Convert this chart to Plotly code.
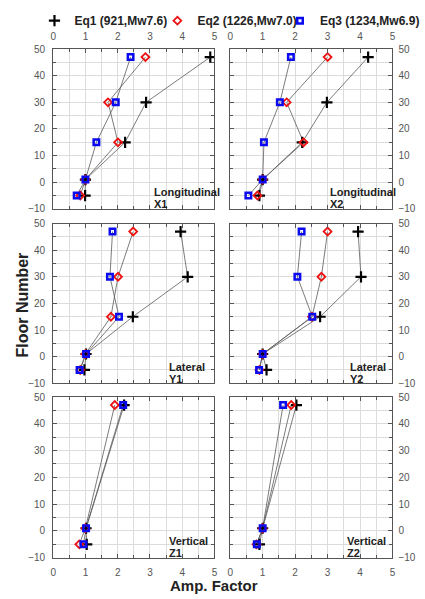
import plotly.graph_objects as go

floors_full = [-5, 1, 15, 30, 47]
floors_vert = [-5, 1, 47]

series_names = ["Eq1 (921,Mw7.6)", "Eq2 (1226,Mw7.0)", "Eq3 (1234,Mw6.9)"]

X1_eq1 = [0.99, 1.00, 2.23, 2.88, 4.87]
X1_eq2 = [0.84, 1.00, 2.01, 1.70, 2.86]
X1_eq3 = [0.73, 1.00, 1.34, 1.94, 2.40]
X2_eq1 = [0.90, 1.00, 2.22, 2.98, 4.25]
X2_eq2 = [0.84, 1.00, 2.26, 1.74, 3.00]
X2_eq3 = [0.56, 1.00, 1.04, 1.53, 1.87]
Y1_eq1 = [0.97, 1.02, 2.47, 4.17, 3.95]
Y1_eq2 = [0.84, 1.00, 1.79, 2.01, 2.48]
Y1_eq3 = [0.82, 1.02, 2.04, 1.76, 1.84]
Y2_eq1 = [1.12, 1.00, 2.77, 4.03, 3.94]
Y2_eq2 = [0.90, 1.00, 2.52, 2.81, 3.00]
Y2_eq3 = [0.89, 1.00, 2.53, 2.07, 2.20]
Z1_eq1 = [1.04, 1.02, 2.20]
Z1_eq2 = [0.81, 1.00, 1.91]
Z1_eq3 = [0.94, 1.02, 2.17]
Z2_eq1 = [0.90, 1.00, 2.04]
Z2_eq2 = [0.81, 1.00, 1.88]
Z2_eq3 = [0.82, 1.00, 1.63]

panel_line1 = ["Longitudinal", "Longitudinal", "Lateral", "Lateral", "Vertical", "Vertical"]
panel_line2 = ["X1", "X2", "Y1", "Y2", "Z1", "Z2"]
panel_label_x = [3.08, 3.03, 3.57, 3.67, 3.57, 3.58]

panels = [
    (floors_full, [X1_eq1, X1_eq2, X1_eq3]),
    (floors_full, [X2_eq1, X2_eq2, X2_eq3]),
    (floors_full, [Y1_eq1, Y1_eq2, Y1_eq3]),
    (floors_full, [Y2_eq1, Y2_eq2, Y2_eq3]),
    (floors_vert, [Z1_eq1, Z1_eq2, Z1_eq3]),
    (floors_vert, [Z2_eq1, Z2_eq2, Z2_eq3]),
]

W, H = 425, 599
FONT = "Liberation Sans, Arial, sans-serif"

markers = [
    dict(symbol="cross-thin", size=8, color="black", line=dict(width=2.2, color="black")),
    dict(symbol="diamond-open", size=6, color="#ee1111", line=dict(width=1.8, color="#ee1111")),
    dict(symbol="square-open", size=5.5, color="#0a0aee", line=dict(width=2.5, color="#0a0aee")),
]

xdom = [[51 / W, 215 / W], [231 / W, 396 / W]]
ypix = [(44, 207), (222, 385), (399, 563)]
ydom = [[1 - b / H, 1 - t / H] for t, b in ypix]

legend_ids = ["legend", "legend2", "legend3"]
legend_px = [32, 157, 282]

fig = go.Figure()
layout = dict(width=W, height=H, margin=dict(l=0, r=0, t=0, b=0),
              paper_bgcolor="white", plot_bgcolor="white",
              font=dict(family=FONT, color="#333"),
              showlegend=True)

for i, (floors, vals) in enumerate(panels):
    row, col = divmod(i, 2)
    n = i + 1
    xa = "x" if n == 1 else f"x{n}"
    ya = "y" if n == 1 else f"y{n}"
    for k, v in enumerate(vals):
        fig.add_trace(go.Scatter(
            x=v, y=floors, mode="lines", xaxis=xa, yaxis=ya, showlegend=False,
            hoverinfo="skip", line=dict(color="#5a5a5a", width=0.8)))
    for k, v in enumerate(vals):
        fig.add_trace(go.Scatter(
            x=v, y=floors, mode="markers", name=f"<b>{series_names[k]}</b>",
            xaxis=xa, yaxis=ya, showlegend=(i == 0), legend=legend_ids[k],
            marker=markers[k]))
    if row == 0:
        side, showlab, stand = "top", True, 4
    elif row == 1:
        side, showlab, stand = "bottom", False, 0
    else:
        side, showlab, stand = "bottom", True, 5
    layout["xaxis" if n == 1 else f"xaxis{n}"] = dict(
        domain=xdom[col], anchor=ya, range=[0, 5], side=side, showticklabels=showlab,
        dtick=1, tick0=0, ticks="inside", ticklen=4, tickcolor="#555",
        ticklabelstandoff=stand,
        showgrid=True, gridcolor="#dcdcdc", gridwidth=1, zeroline=False,
        showline=True, linecolor="#555", linewidth=1, mirror="allticks",
        tickfont=dict(size=10, color="#555"),
        minor=dict(dtick=0.5, ticks="inside", ticklen=3, tickcolor="#555",
                   showgrid=True, gridcolor="#dcdcdc"))
    layout["yaxis" if n == 1 else f"yaxis{n}"] = dict(
        domain=ydom[row], anchor=xa, range=[-10, 50], side="left" if col == 0 else "right",
        dtick=10, tick0=0, ticks="inside", ticklen=4, tickcolor="#555",
        ticklabelstandoff=5 if col == 0 else 3,
        showgrid=True, gridcolor="#dcdcdc", gridwidth=1, zeroline=False,
        showline=True, linecolor="#555", linewidth=1, mirror="allticks",
        tickfont=dict(size=10, color="#555"),
        minor=dict(dtick=5, ticks="inside", ticklen=3, tickcolor="#555",
                   showgrid=True, gridcolor="#dcdcdc"))

annotations = []
for i in range(6):
    row, col = divmod(i, 2)
    n = i + 1
    t, b = ypix[row]
    hgt = b - t
    for txt, off in ((panel_line1[i], 17), (panel_line2[i], 4.5)):
        annotations.append(dict(
            text=f"<b>{txt}</b>", xref="x" if n == 1 else f"x{n}",
            yref=("y" if n == 1 else f"y{n}") + " domain",
            x=panel_label_x[i], y=off / hgt, xanchor="left", yanchor="middle", align="left",
            showarrow=False, borderpad=0,
            font=dict(size=11, color="#222", family=FONT)))

annotations.append(dict(text="<b>Floor Number</b>", xref="paper", yref="paper",
                        x=20 / W, y=1 - 305 / H, xanchor="center", yanchor="middle",
                        textangle=-90, showarrow=False,
                        font=dict(size=16, color="#222", family=FONT)))
annotations.append(dict(text="<b>Amp. Factor</b>", xref="paper", yref="paper",
                        x=215 / W, y=1 - 591 / H, xanchor="center", yanchor="middle",
                        showarrow=False,
                        font=dict(size=15, color="#222", family=FONT)))
layout["annotations"] = annotations

for lid, px in zip(legend_ids, legend_px):
    layout[lid] = dict(orientation="h", x=px / W, y=1 - 15 / H, xanchor="left", yanchor="middle",
                       font=dict(size=12, color="#222", family=FONT),
                       bgcolor="rgba(0,0,0,0)", itemwidth=30)

fig.update_layout(**layout)
fig.write_html("out.html")
